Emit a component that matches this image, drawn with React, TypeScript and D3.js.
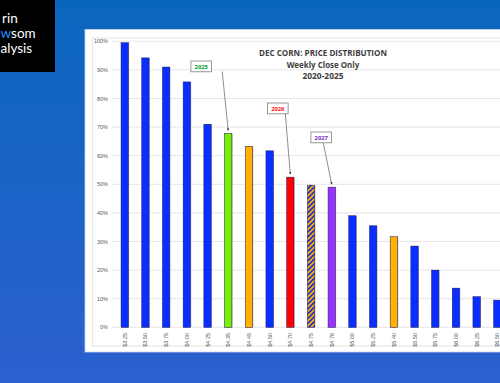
import React from "react";
import * as d3 from "d3";

const categories = ["$3.25","$3.50","$3.75","$4.00","$4.25","$4.35","$4.45","$4.50","$4.70","$4.75","$4.76","$5.00","$5.25","$5.40","$5.50","$5.75","$6.00","$6.25","$6.50"];
const values = [0.995,0.942,0.91,0.858,0.71,0.678,0.633,0.617,0.525,0.497,0.49,0.39,0.355,0.317,0.284,0.20,0.137,0.107,0.095];
const barColors = ["#0a2eff","#0a2eff","#0a2eff","#0a2eff","#0a2eff","#77f000","#ffb000","#0a2eff","#ff0000","hatch","#9933ff","#0a2eff","#0a2eff","#ffb000","#0a2eff","#0a2eff","#0a2eff","#0a2eff","#0a2eff"];
const yTicks = [0,0.1,0.2,0.3,0.4,0.5,0.6,0.7,0.8,0.9,1.0];
const titleLines = ["DEC CORN: PRICE DISTRIBUTION","Weekly Close Only","2020-2025"];
const logoLines = ["rin", "som", "alysis"];
const annotations = [
  { label: "2025", cat: "$4.35", color: "#00a020", dx: -27, boxY: 61, lineDx: -6 },
  { label: "2026", cat: "$4.70", color: "#ff1010", dx: -12.5, boxY: 103, lineDx: -5 },
  { label: "2027", cat: "$4.76", color: "#7030c0", dx: -10.5, boxY: 132, lineDx: -8.5 },
];

export default function App() {
  const W = 500, H = 383;
  const x = d3.scaleBand<string>().domain(categories).range([114.35, 507.65]).paddingInner(0.647).paddingOuter(0.3235);
  const y = d3.scaleLinear().domain([0, 1]).range([327.3, 41.3]);
  const fmt = d3.format(".0%");
  const bw = x.bandwidth();
  const cx = (c: string) => (x(c) as number) + bw / 2;

  return (
    <svg width={W} height={H} style={{ position: "absolute", left: 0, top: 0, display: "block" }}>
      <defs>
        <linearGradient id="bg" x1="0" y1="0" x2="0" y2="1">
          <stop offset="0" stopColor="#0a66bd" />
          <stop offset="1" stopColor="#2c60cf" />
        </linearGradient>
        <pattern id="hatch" width="3.4" height="3.4" patternUnits="userSpaceOnUse" patternTransform="rotate(45)">
          <rect width="3.4" height="3.4" fill="#ffb000" />
          <rect width="1.7" height="3.4" fill="#2233cc" />
        </pattern>
        <marker id="arr" viewBox="0 0 6 6" refX="5" refY="3" markerWidth="4" markerHeight="4" orient="auto">
          <path d="M0,0 L6,3 L0,6 z" fill="#303030" />
        </marker>
      </defs>
      <rect width={W} height={H} fill="url(#bg)" />
      {/* logo */}
      <rect x={0} y={0} width={55} height={72} fill="#000" />
      <g fontFamily="Lato, 'Open Sans', sans-serif" fontSize={13.5} fill="#fff">
        <text x={2} y={23}>{logoLines[0]}</text>
        <text x={0.5} y={38}><tspan fill="#1e8fff">w</tspan>{logoLines[1]}</text>
        <text x={0.5} y={53}>{logoLines[2]}</text>
      </g>
      {/* panel */}
      <rect x={85} y={29.5} width={420} height={322.5} fill="#fff" stroke="#c9d6ea" strokeWidth={0.8} />
      <rect x={92.7} y={38} width={420} height={308} fill="#fff" stroke="#dcdcdc" strokeWidth={0.8} />
      {/* grid */}
      {yTicks.map((t) => (
        <g key={t}>
          <line x1={112} x2={510} y1={y(t)} y2={y(t)} stroke="#e3e3e3" strokeWidth={0.9} />
          <text x={108} y={y(t) + 2} fontSize={5.5} fill="#595959" textAnchor="end" fontFamily="'Liberation Sans', Arial, sans-serif">{fmt(t)}</text>
        </g>
      ))}
      {/* bars */}
      {categories.map((c, i) => {
        const x0 = x(c) as number;
        const yt = y(values[i]);
        const h = y(0) - yt;
        const fill = barColors[i] === "hatch" ? "url(#hatch)" : barColors[i];
        return (
          <g key={c}>
            <rect x={x0 + 0.8} y={yt + 0.3} width={bw} height={h} fill="#9a9a9a" opacity={0.7} />
            <rect x={x0} y={yt} width={bw} height={h} fill={fill} stroke="#1a1a60" strokeWidth={0.5} />
          </g>
        );
      })}
      {/* x labels */}
      {categories.map((c) => (
        <text key={c} transform={`translate(${cx(c) + 2},333) rotate(-90)`} fontSize={5.5} fill="#595959" textAnchor="end" fontFamily="'Liberation Sans', Arial, sans-serif">{c}</text>
      ))}
      {/* title */}
      <g fontFamily="'Open Sans', sans-serif" fontWeight="bold" fill="#404040" textAnchor="middle">
        <text x={323} y={56} fontSize={9.6} textLength={128} lengthAdjust="spacingAndGlyphs">{titleLines[0]}</text>
        <text x={323} y={67.6} fontSize={9.6} textLength={72.6} lengthAdjust="spacingAndGlyphs">{titleLines[1]}</text>
        <text x={323} y={79.3} fontSize={9.6} textLength={41} lengthAdjust="spacingAndGlyphs">{titleLines[2]}</text>
      </g>
      {/* annotations */}
      {annotations.map((a) => {
        const i = categories.indexOf(a.cat);
        const bx = cx(a.cat) + a.dx;
        const tipY = y(values[i]) - 3;
        return (
          <g key={a.label}>
            <line x1={cx(a.cat) + a.lineDx} y1={a.boxY + 10.5} x2={cx(a.cat)} y2={tipY} stroke="#404040" strokeWidth={0.6} markerEnd="url(#arr)" />
            <rect x={bx - 10.3} y={a.boxY} width={20.6} height={10.8} fill="#fff" stroke="#7f7f7f" strokeWidth={0.8} />
            <text x={bx} y={a.boxY + 7.5} fontSize={5.8} fontWeight="bold" fill={a.color} textAnchor="middle" fontFamily="'Open Sans', sans-serif">{a.label}</text>
          </g>
        );
      })}
    </svg>
  );
}
